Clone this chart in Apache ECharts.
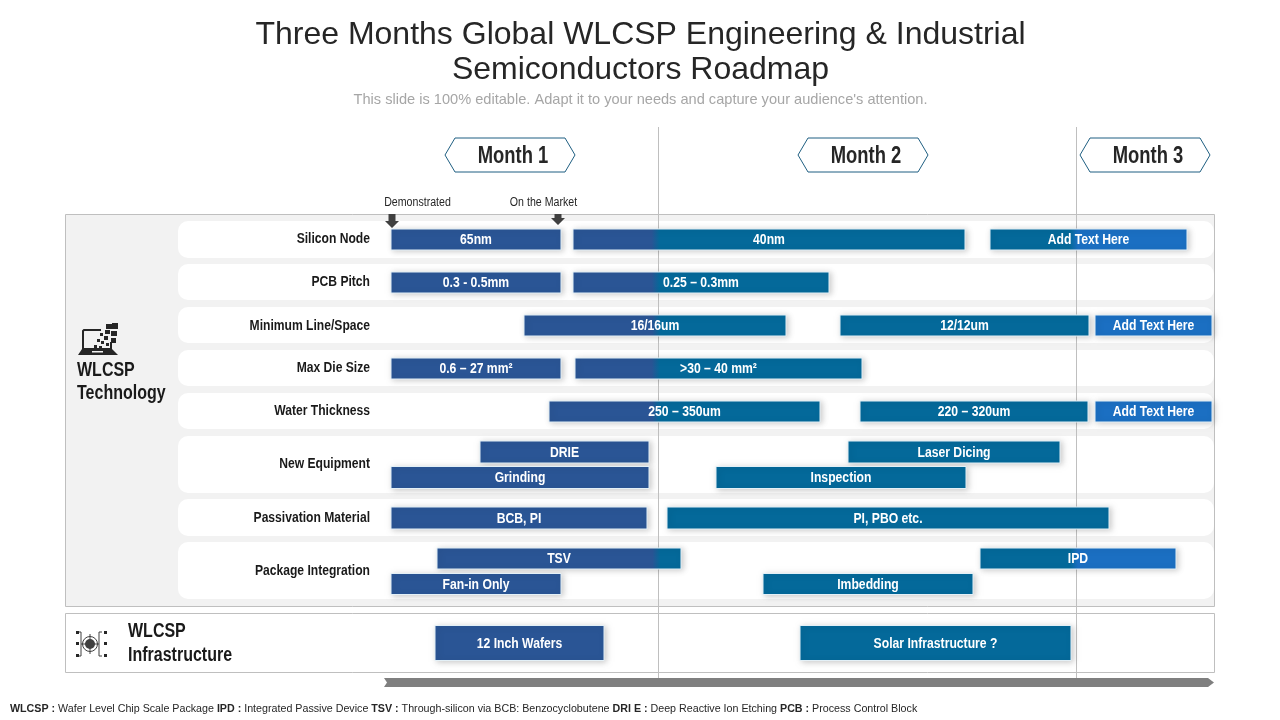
<!DOCTYPE html>
<html><head><meta charset="utf-8">
<style>html,body{margin:0;padding:0;background:#fff}#c{width:1280px;height:720px}</style>
<script src="https://cdn.jsdelivr.net/npm/echarts@6/dist/echarts.min.js"></script>
</head><body><div id="c"></div>
<script>
// ---------- content ----------
const titleText = 'Three Months Global WLCSP Engineering & Industrial\nSemiconductors Roadmap';
const subtitleText = "This slide is 100% editable. Adapt it to your needs and capture your audience's attention.";
const rowNames = ['Silicon Node','PCB Pitch','Minimum Line/Space','Max Die Size','Water Thickness','New Equipment','Passivation Material','Package Integration',''];
const monthNames = ['Month 1','Month 2','Month 3'];
const monthCentres = [119,472,754];        // on the schedule axis
const monthEnds = [267,685];               // schedule-axis position of month boundaries
const milestones = ['Demonstrated','On the Market'];
const milestoneAt = [1,167];
// ---------- bars (schedule-axis units) ----------
const taskRow   = [0,0,0, 1,1, 2,2,2, 3,3, 4,4,4, 5,5,5,5, 6,6, 7,7,7,7, 8,8];
const taskLane  = [0,0,0, 0,0, 0,0,0, 0,0, 0,0,0, 0,1,0,1, 0,0, 0,1,0,1, 0,0];
const taskStart = [0,182,599, 0,182, 133,449,704, 0,184, 158,469,704, 89,0,457,325, 0,276, 46,0,589,372, 44,409];
const taskEnd   = [170,574,796, 170,438, 395,698,821, 170,471, 429,697,821, 258,258,669,575, 256,718, 290,170,785,582, 213,680];
const taskLabel = ['65nm','40nm','Add Text Here','0.3 - 0.5mm','0.25 – 0.3mm','16/16um','12/12um','Add Text Here','0.6 – 27 mm²','>30 – 40 mm²','250 – 350um','220 – 320um','Add Text Here','DRIE','Grinding','Laser Dicing','Inspection','BCB, PI','PI, PBO etc.','TSV','Fan-in Only','IPD','Imbedding','12 Inch Wafers','Solar Infrastructure ?'];
const taskFromStage = [0,0,1, 0,0, 0,1,2, 0,0, 0,1,2, 0,0,1,1, 0,1, 0,0,1,1, 0,1];
const taskToStage   = [0,1,2, 0,1, 1,1,2, 0,1, 1,1,2, 0,0,1,1, 0,1, 1,0,2,1, 0,1];
// ---------- layout / style ----------
const stageColors = ['#2a5595','#04699a','#1b6fc2'];
const rowTops    = [221,264,307,350,393,436,499,542];
const rowBottoms = [258,300,343,386,429,493,536,599];
const laneCentres = [[239.5],[282.5],[325.5],[368.5],[411.5],[452,477.5],[518],[558.5,584],[643]];
const laneHeights = [21,21,21,21,21,22,22,21,35];
const rowLabelY = [239,282,326,368,411,464,518,571];
const SANS = '"Liberation Sans",Arial,sans-serif';

function narrowText(x,y,text,font,fill,align,scale){
  return {type:'text',x,y,scaleX:scale,style:{x:0,y:0,text,fill,font:font+' '+SANS,align:align||'left',verticalAlign:'middle'}};
}

const chart = echarts.init(document.getElementById('c'), null, {renderer:'canvas', width:1280, height:720});

function renderRow(params, api){
  const i = params.dataIndex;
  if(i >= rowTops.length) return null;
  const left = api.coord([api.value(0), rowTops[i]]);
  const right = api.coord([api.value(1), rowBottoms[i]]);
  return {type:'group', children:[
    {type:'rect', shape:{x:left[0],y:left[1],width:right[0]-left[0],height:right[1]-left[1],r:10}, style:{fill:'#fff'}},
    narrowText(370,rowLabelY[i],rowNames[i],'bold 14px','#1a1a1a','right',0.865)
  ]};
}
function renderDivider(params, api){
  const a = api.coord([api.value(0),127]), b = api.coord([api.value(0),678]);
  return {type:'line', shape:{x1:a[0]+.5,y1:a[1],x2:b[0]+.5,y2:b[1]}, style:{stroke:'#bfbfbf',lineWidth:1}};
}
function renderTask(params, api){
  const i = params.dataIndex, row = taskRow[i];
  const cy = laneCentres[row][taskLane[i]], h = laneHeights[row];
  const p0 = api.coord([api.value(0), cy]), p1 = api.coord([api.value(1), cy]);
  const w = p1[0]-p0[0], from = taskFromStage[i], to = taskToStage[i];
  let fill = stageColors[from];
  if(from !== to){
    const bx = api.coord([monthEnds[from],0])[0];
    const s0 = Math.max(0,(bx-6-p0[0])/w), s1 = Math.min(1,(bx+2-p0[0])/w);
    fill = {type:'linear',x:0,y:0,x2:1,y2:0,colorStops:[
      {offset:0,color:stageColors[from]},{offset:s0,color:stageColors[from]},
      {offset:s1,color:stageColors[to]},{offset:1,color:stageColors[to]}]};
  }
  return {type:'group', children:[
    {type:'rect', shape:{x:p0[0],y:p0[1]-h/2,width:w,height:h},
     style:{fill,stroke:'#e3f0f7',lineWidth:1,shadowBlur:6,shadowOffsetX:2,shadowOffsetY:1,shadowColor:'rgba(0,0,0,0.2)'}},
    narrowText(p0[0]+w/2,p0[1]+1,taskLabel[i],'bold 14px','#fff','center',0.87)
  ]};
}
function renderMonth(params, api){
  const i = params.dataIndex, c = api.coord([api.value(0),155]);
  const x=c[0], y=c[1], hw=65, hh=17, n=10;
  return {type:'group', children:[
    {type:'polygon', shape:{points:[[x-hw,y],[x-hw+n,y-hh],[x+hw-n,y-hh],[x+hw,y],[x+hw-n,y+hh],[x-hw+n,y+hh]]}, style:{fill:'#fff',stroke:'#1f5f82',lineWidth:1}},
    narrowText(x+3,y+2,monthNames[i],'bold 23px','#262626','center',0.8)
  ]};
}
function renderMilestone(params, api){
  const i = params.dataIndex, c = api.coord([api.value(0),214]);
  const x=c[0], y=c[1], tail = i===0?7:4;
  return {type:'group', children:[
    {type:'polygon', shape:{points:[[x-3.5,y],[x+3.5,y],[x+3.5,y+tail],[x+7,y+tail],[x,y+tail+7],[x-7,y+tail],[x-3.5,y+tail]]}, style:{fill:'#404040'}},
    narrowText(i===0?x+25.5:x-14.5,203,milestones[i],'12px','#262626','center',0.885)
  ]};
}

// decorative icon pieces
const laptopSquares = [[106,324,6,5],[112,323,6,6],[105,330,5,4],[111,331,6,5],[100,333,3,3],[104,336,4,4],[111,338,5,5],[97,339,3,3],[101,341,3,3],[106,343,3,3],[94,345,3,3],[99,346,3,3]];
const gearDots = [[76,631],[76,642],[76,654],[104,631],[104,642],[104,654]];
const graphicEls = [
  {type:'rect',z:0,shape:{x:65.5,y:214.5,width:1149,height:392},style:{fill:'#f2f2f2',stroke:'#bfbfbf',lineWidth:1}},
  {type:'rect',z:0,shape:{x:65.5,y:613.5,width:1149,height:59},style:{fill:'#fff',stroke:'#bfbfbf',lineWidth:1}},
  {type:'polygon',z:5,shape:{points:[[384,678],[1208,678],[1214,682.5],[1208,687],[384,687],[387,682.5]]},style:{fill:'#7f7f7f'}},
  {...narrowText(77,370,'WLCSP','bold 20px','#1a1a1a','left',0.8),z:10},
  {...narrowText(77,393,'Technology','bold 20px','#1a1a1a','left',0.8),z:10},
  {...narrowText(128,631,'WLCSP','bold 20px','#1a1a1a','left',0.8),z:10},
  {...narrowText(128,655,'Infrastructure','bold 20px','#1a1a1a','left',0.8),z:10},
  // laptop icon
  {type:'polyline',z:10,shape:{points:[[101,330],[84,330],[83,331],[83,349],[111,349],[111,342]]},style:{stroke:'#262626',fill:'none',lineWidth:2}},
  {type:'polygon',z:10,shape:{points:[[82,349],[112,349],[118,355],[78,355]]},style:{fill:'#262626'}},
  {type:'rect',z:11,shape:{x:92,y:351,width:11,height:1.5},style:{fill:'#f2f2f2'}},
  ...laptopSquares.map(s=>({type:'rect',z:10,shape:{x:s[0],y:s[1],width:s[2],height:s[3]},style:{fill:'#262626'}})),
  // infrastructure icon
  {type:'circle',z:10,shape:{cx:90,cy:644,r:5},style:{fill:'#404040'}},
  {type:'circle',z:10,shape:{cx:90,cy:644,r:7.5},style:{fill:'none',stroke:'#404040',lineWidth:1}},
  {type:'polyline',z:10,shape:{points:[[78,632],[81,632],[81,656],[78,656]]},style:{stroke:'#404040',fill:'none',lineWidth:1}},
  {type:'polyline',z:10,shape:{points:[[102,632],[99,632],[99,656],[102,656]]},style:{stroke:'#404040',fill:'none',lineWidth:1}},
  {type:'line',z:10,shape:{x1:81,y1:644,x2:99,y2:644},style:{stroke:'#404040',lineWidth:1}},
  {type:'line',z:10,shape:{x1:90,y1:634,x2:90,y2:654},style:{stroke:'#404040',lineWidth:1}},
  ...gearDots.map(d=>({type:'rect',z:10,shape:{x:d[0],y:d[1],width:3,height:3},style:{fill:'#262626'}})),
  // footer
  {type:'text',z:10,style:{x:10,y:709,verticalAlign:'middle',fill:'#262626',font:'10.7px '+SANS,
    text:'{b|WLCSP :} Wafer Level Chip Scale Package {b|IPD :} Integrated Passive Device {b|TSV :} Through-silicon via BCB: Benzocyclobutene {b|DRI E :} Deep Reactive Ion Etching {b|PCB :} Process Control Block',
    rich:{b:{font:'bold 10.7px '+SANS,fill:'#262626'}}}}
];

const hidden = {show:false};
const xFull = {type:'value',min:0,max:823,...hidden};
chart.setOption({
  animation:false,
  backgroundColor:'#fff',
  title:{text:titleText,subtext:subtitleText,left:635.5,top:13,textAlign:'center',
    textStyle:{fontFamily:SANS,fontWeight:'normal',fontSize:32,lineHeight:35,color:'#262626'},
    subtextStyle:{fontFamily:SANS,fontSize:14.6,color:'#a6a6a6'},itemGap:4},
  grid:{left:391,width:823,top:0,height:720},
  xAxis:xFull,
  yAxis:{type:'value',min:0,max:720,inverse:true,...hidden},
  graphic:{elements:graphicEls},
  series:[
    {name:'Rows',type:'custom',z:1,silent:true,coordinateSystem:'cartesian2d',renderItem:renderRow,clip:false,
     data:rowNames.map(()=>[-213,823])},
    {name:'Month dividers',type:'custom',z:2,silent:true,coordinateSystem:'cartesian2d',renderItem:renderDivider,clip:false,
     data:monthEnds.map(v=>[v])},
    {name:'Months',type:'custom',z:3,silent:true,coordinateSystem:'cartesian2d',renderItem:renderMonth,clip:false,
     data:monthCentres.map(v=>[v])},
    {name:'Milestones',type:'custom',z:4,silent:true,coordinateSystem:'cartesian2d',renderItem:renderMilestone,clip:false,
     data:milestoneAt.map(v=>[v])},
    {name:'Roadmap',type:'custom',z:6,silent:true,coordinateSystem:'cartesian2d',renderItem:renderTask,clip:false,
     data:taskStart.map((s,i)=>[s,taskEnd[i]])}
  ]
});
</script></body></html>
